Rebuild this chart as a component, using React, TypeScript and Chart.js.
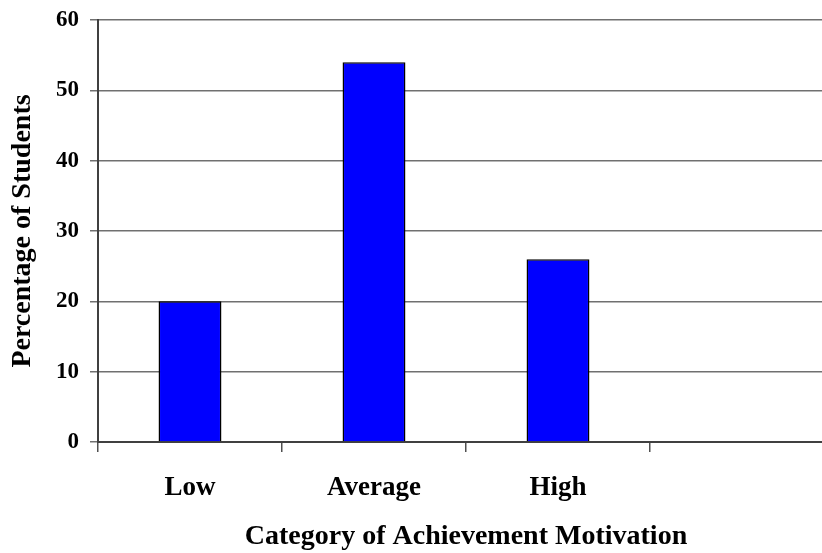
import React, { useEffect, useRef } from "react";
import { Chart, registerables } from "chart.js";

Chart.register(...registerables);

const categories: string[] = ["Low", "Average", "High", ""];
const percentages: (number | null)[] = [20, 54, 26, null];
const yTicks: number[] = [0, 10, 20, 30, 40, 50, 60];
const xTitle = "Category of Achievement Motivation";
const yTitle = "Percentage of Students";

export default function App() {
  const canvasRef = useRef<HTMLCanvasElement | null>(null);

  useEffect(() => {
    const canvas = canvasRef.current;
    if (!canvas) return;
    const serif = "'Liberation Serif', 'Times New Roman', serif";
    const chart = new Chart(canvas, {
      type: "bar",
      data: {
        labels: categories,
        datasets: [
          {
            data: percentages,
            backgroundColor: "#0000FF",
            borderColor: "#000000",
            borderWidth: 1.5,
            categoryPercentage: 1,
            barPercentage: 0.342,
          },
        ],
      },
      options: {
        responsive: false,
        animation: false,
        devicePixelRatio: 1,
        layout: { padding: { top: 20, left: 0, right: 0, bottom: 0 } },
        plugins: { legend: { display: false }, tooltip: { enabled: false } },
        scales: {
          x: {
            type: "category",
            offset: true,
            grid: {
              offset: true,
              drawOnChartArea: false,
              drawTicks: true,
              tickLength: 10,
              color: "#505050",
              lineWidth: 1.5,
            },
            border: { display: true, color: "#404040", width: 2 },
            ticks: {
              color: "#000000",
              padding: 20,
              maxRotation: 0,
              autoSkip: false,
              font: { family: serif, size: 27, weight: "bold" },
            },
            title: {
              display: true,
              text: xTitle,
              color: "#000000",
              padding: 0,
              font: { family: serif, size: 28, weight: "bold", lineHeight: 1.15 },
            },
            afterFit: (scale: any) => {
              scale.height = 111;
            },
          },
          y: {
            type: "linear",
            min: 0,
            max: 60,
            afterBuildTicks: (scale: any) => {
              scale.ticks = yTicks.map((v) => ({ value: v }));
            },
            grid: {
              color: "#707070",
              lineWidth: 1.5,
              drawTicks: true,
              tickLength: 8,
            },
            border: { display: true, color: "#404040", width: 2 },
            ticks: {
              color: "#000000",
              padding: 11,
              font: { family: serif, size: 23, weight: "bold" },
            },
            title: {
              display: true,
              text: yTitle,
              color: "#000000",
              padding: { top: 6, bottom: 0 },
              font: { family: serif, size: 28, weight: "bold", lineHeight: 1.2 },
            },
            afterFit: (scale: any) => {
              scale.width = 98;
              scale.paddingTop = 0;
              scale.paddingBottom = 0;
            },
          },
        },
      },
    });
    return () => chart.destroy();
  }, []);

  return (
    <div
      style={{
        position: "fixed",
        left: 0,
        top: 0,
        width: 822,
        height: 553,
        overflow: "hidden",
        background: "#ffffff",
      }}
    >
      <canvas
        ref={canvasRef}
        width={834}
        height={553}
        style={{ width: 834, height: 553, display: "block" }}
      />
    </div>
  );
}
